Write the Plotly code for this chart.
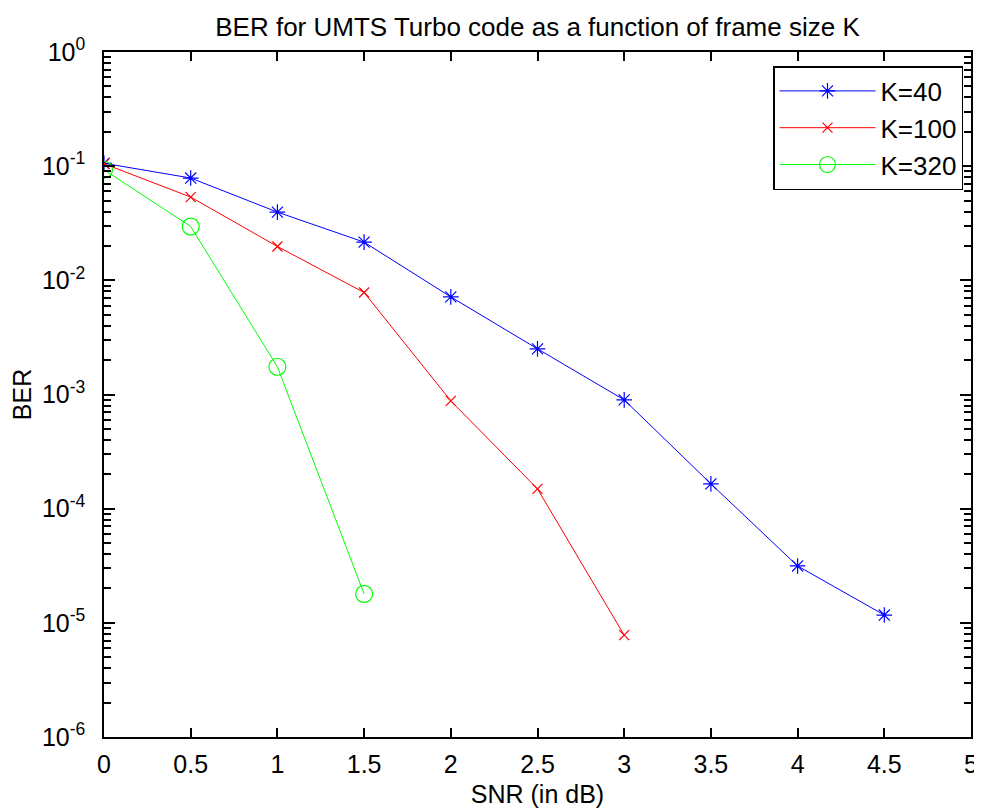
import plotly.graph_objects as go

snr_k40 = [0, 0.5, 1, 1.5, 2, 2.5, 3, 3.5, 4, 4.5]
ber_k40 = [0.106, 0.0787, 0.0396, 0.0216, 0.00716, 0.00251, 0.000897, 0.000165, 3.15e-5, 1.17e-5]

snr_k100 = [0, 0.5, 1, 1.5, 2, 2.5, 3]
ber_k100 = [0.105, 0.0536, 0.0198, 0.00782, 0.000879, 0.000149, 7.8e-6]

snr_k320 = [0, 0.5, 1, 1.5]
ber_k320 = [0.093, 0.0296, 0.00175, 1.79e-5]

x_ticks = [0, 0.5, 1, 1.5, 2, 2.5, 3, 3.5, 4, 4.5, 5]
y_ticks = [1e-6, 1e-5, 1e-4, 1e-3, 1e-2, 1e-1, 1]
y_ticktext = ["10<sup>-6</sup>", "10<sup>-5</sup>", "10<sup>-4</sup>", "10<sup>-3</sup>",
              "10<sup>-2</sup>", "10<sup>-1</sup>", "10<sup>0</sup>"]

FONT = "Arial, Liberation Sans, Helvetica, sans-serif"

# page has an 8px body margin: figure is sized/offset to compensate
W, H = 974, 800

fig = go.Figure()
fig.add_trace(go.Scatter(x=snr_k40, y=ber_k40, mode="lines+markers", name="K=40",
                         legendgroup="a",
                         line=dict(color="#0000ff", width=1),
                         marker=dict(symbol="asterisk-open", size=13,
                                     line=dict(color="#0000ff", width=1.2))))
fig.add_trace(go.Scatter(x=snr_k100, y=ber_k100, mode="lines+markers", name="K=100",
                         legendgroup="b",
                         line=dict(color="#ff0000", width=1),
                         marker=dict(symbol="x-thin-open", size=10,
                                     line=dict(color="#ff0000", width=1.2))))
fig.add_trace(go.Scatter(x=snr_k320, y=ber_k320, mode="lines+markers", name="K=320",
                         legendgroup="c",
                         line=dict(color="#00ff00", width=1),
                         marker=dict(symbol="circle-open", size=17,
                                     line=dict(color="#00ff00", width=1.2))))

ml, mr, mt, mb = 96, 11, 44, 71
pw, ph = W - ml - mr, H - mt - mb

fig.update_layout(
    width=W, height=H,
    margin=dict(l=ml, r=mr, t=mt, b=mb),
    paper_bgcolor="white", plot_bgcolor="white",
    font=dict(family=FONT, size=24, color="black"),
    title=dict(text="BER for UMTS Turbo code as a function of frame size K",
               x=(ml + pw / 2) / W, xanchor="center",
               y=1 - 19 / H, yanchor="middle", yref="container",
               font=dict(family=FONT, size=26, color="black")),
    showlegend=True,
    legend=dict(x=1 - 8 / pw, xanchor="right", y=1 - 14 / ph, yanchor="top",
                bgcolor="white", bordercolor="black", borderwidth=1.5,
                font=dict(family=FONT, size=26, color="black"),
                itemwidth=96, tracegroupgap=0),
)

fig.update_xaxes(range=[0, 5], tickvals=x_ticks, ticktext=[("%g" % v) for v in x_ticks],
                 automargin=False,
                 showgrid=False, zeroline=False, showline=True, linecolor="black", linewidth=1.5,
                 mirror="allticks", ticks="inside", ticklen=9, tickcolor="black", tickwidth=1.5,
                 ticklabelstandoff=4,
                 title=dict(text="SNR (in dB)", standoff=9,
                            font=dict(family=FONT, size=25, color="black")),
                 tickfont=dict(family=FONT, size=25, color="black"))

fig.update_yaxes(type="log", range=[-6, 0], tickvals=y_ticks, ticktext=y_ticktext,
                 automargin=False,
                 showgrid=False, zeroline=False, showline=True, linecolor="black", linewidth=1.5,
                 mirror="allticks", ticks="inside", ticklen=11, tickcolor="black", tickwidth=1.5,
                 ticklabelstandoff=12,
                 minor=dict(ticks="inside", ticklen=7, tickcolor="black", tickwidth=1.5,
                            dtick="D1", showgrid=False),
                 title=dict(text="BER", standoff=8,
                            font=dict(family=FONT, size=25, color="black")),
                 tickfont=dict(family=FONT, size=25, color="black"))

fig.write_html("out.html")
